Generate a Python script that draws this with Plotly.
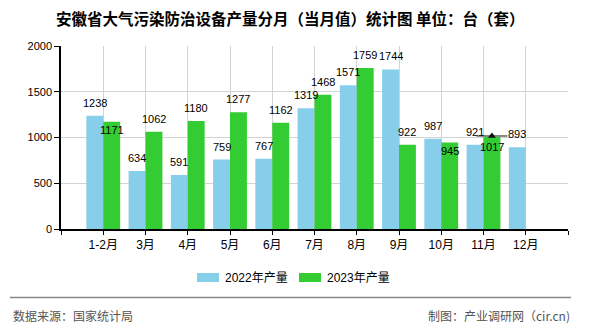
import plotly.graph_objects as go

categories = ["1-2月", "3月", "4月", "5月", "6月", "7月", "8月", "9月", "10月", "11月", "12月"]
values_2022 = [1238, 634, 591, 759, 767, 1319, 1571, 1744, 987, 921, 893]
values_2023 = [1171, 1062, 1180, 1277, 1162, 1468, 1759, 922, 945, 1017, None]
series_names = ["2022年产量", "2023年产量"]
y_ticks = [0, 500, 1000, 1500, 2000]
title_text = "安徽省大气污染防治设备产量分月（当月值）统计图 单位：台（套）"
source_text = "数据来源：国家统计局"
credit_text = "制图：产业调研网（cir.cn)"

# style
C22 = "#87CEEB"
C23 = "#33CC33"
W, H = 590, 330
L, R, T, B = 61, 568, 46, 229
NUM_FONT = "Liberation Sans, Noto Sans CJK SC, sans-serif"
CJK_FONT = "Noto Sans CJK SC, sans-serif"


def px_x(px):
    return (px - L) / (R - L)


def px_y(py):
    return (B - py) / (B - T)


idx = list(range(len(categories)))
BW = 0.4

fig = go.Figure()
fig.add_trace(go.Bar(x=idx, y=values_2022, width=BW, offset=-BW, name=series_names[0],
                     marker=dict(color=C22, line=dict(width=0)), showlegend=False))
fig.add_trace(go.Bar(x=idx, y=values_2023, width=BW, offset=0, name=series_names[1],
                     marker=dict(color=C23, line=dict(width=0)), showlegend=False))

# latest-value marker on 11月 (2023)
last_i = max(i for i, v in enumerate(values_2023) if v is not None)
fig.add_trace(go.Scatter(x=[last_i + BW / 2], y=[values_2023[last_i]], mode="markers",
                         marker=dict(symbol="line-ew", size=22, line=dict(color="#888888", width=2)),
                         showlegend=False, hoverinfo="skip", cliponaxis=False))
fig.add_trace(go.Scatter(x=[last_i + BW / 2], y=[values_2023[last_i]], mode="markers",
                         marker=dict(symbol="triangle-up", size=7, color="#111111"),
                         showlegend=False, hoverinfo="skip", cliponaxis=False))

# data labels
inside_2023 = {0: -8, 8: -8, 9: -11}
ann = []
for i, v in enumerate(values_2022):
    if v is None:
        continue
    ann.append(dict(x=i - BW / 2, y=v, xref="x", yref="y", text=str(v), showarrow=False,
                    yanchor="middle", yshift=13, font=dict(family=NUM_FONT, size=11, color="black")))
for i, v in enumerate(values_2023):
    if v is None:
        continue
    ann.append(dict(x=i + BW / 2, y=v, xref="x", yref="y", text=str(v), showarrow=False,
                    yanchor="middle", yshift=inside_2023.get(i, 13),
                    font=dict(family=NUM_FONT, size=11, color="black")))

# legend (manual)
shapes = []
legend_items = [(197, 219, 223, C22, series_names[0]), (299, 321, 325, C23, series_names[1])]
for x0, x1, tx, col, name in legend_items:
    shapes.append(dict(type="rect", xref="paper", yref="paper", x0=px_x(x0), x1=px_x(x1),
                       y0=px_y(282), y1=px_y(273), fillcolor=col, line=dict(width=0)))
    ann.append(dict(x=px_x(tx), y=px_y(277.5), xref="paper", yref="paper", text=name, showarrow=False,
                    xanchor="left", yanchor="middle", font=dict(family=NUM_FONT, size=12, color="black")))

# footer
shapes.append(dict(type="line", xref="paper", yref="paper", x0=px_x(10), x1=px_x(571),
                   y0=px_y(297.5), y1=px_y(297.5), line=dict(color="#888888", width=1.5)))
ann.append(dict(x=px_x(11), y=px_y(315), xref="paper", yref="paper", text=source_text, showarrow=False,
                xanchor="left", yanchor="middle", font=dict(family=CJK_FONT, size=12, color="#555555")))
ann.append(dict(x=px_x(572), y=px_y(315), xref="paper", yref="paper", text=credit_text, showarrow=False,
                xanchor="right", yanchor="middle", font=dict(family=CJK_FONT, size=12, color="#555555")))

# title
ann.append(dict(x=px_x(290.5), y=px_y(18.5), xref="paper", yref="paper", text="<b>" + title_text + "</b>",
                showarrow=False, xanchor="center", yanchor="middle",
                font=dict(family=CJK_FONT, size=15.5, color="black")))

fig.update_layout(
    width=W, height=H,
    margin=dict(l=L, r=W - R, t=T, b=H - B, autoexpand=False),
    paper_bgcolor="white", plot_bgcolor="white",
    barmode="overlay",
    annotations=ann, shapes=shapes,
    showlegend=False,
    xaxis=dict(range=[-1, len(categories)], tickmode="array",
               tickvals=[-1] + idx + [len(categories)],
               ticktext=[""] + categories + [""],
               showgrid=True, gridcolor="#d3d3d3", gridwidth=1,
               showline=True, linecolor="black", linewidth=1.5,
               ticks="outside", ticklen=4, tickcolor="black",
               zeroline=False, fixedrange=True,
               tickfont=dict(family=NUM_FONT, size=12, color="black")),
    yaxis=dict(range=[0, 2000], tickmode="array", tickvals=y_ticks,
               showgrid=True, gridcolor="#d3d3d3", gridwidth=1,
               showline=True, linecolor="black", linewidth=1.5,
               ticks="outside", ticklen=5, tickcolor="black",
               zeroline=False, fixedrange=True,
               tickfont=dict(family=NUM_FONT, size=11, color="black")),
)

fig.write_html("out.html")
